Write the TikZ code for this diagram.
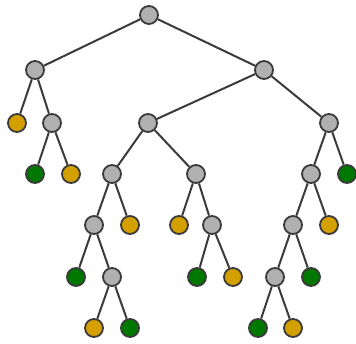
\documentclass[tikz,border=0pt]{standalone}
\definecolor{ngray}{HTML}{B0B0B0}
\definecolor{norange}{HTML}{D4A000}
\definecolor{ngreen}{HTML}{007800}
\definecolor{nedge}{HTML}{3A3A3A}
\begin{document}
\begin{tikzpicture}[x=1pt,y=-1pt,
  nd/.style={circle,draw=nedge,line width=1.8pt,minimum size=18pt,inner sep=0pt},
  gn/.style={nd,fill=ngray},
  on/.style={nd,fill=norange},
  en/.style={nd,fill=ngreen},
  ed/.style={draw=nedge,line width=2pt}]
\useasboundingbox (0,0) rectangle (356,343);
\node[gn] (r) at (149,15) {};
\node[gn] (a) at (35,70) {};
\node[gn] (b) at (264,70) {};
\node[on] (a1) at (17,123) {};
\node[gn] (a2) at (52,123) {};
\node[en] (a21) at (35,174) {};
\node[on] (a22) at (71,174) {};
\node[gn] (c) at (148,123) {};
\node[gn] (d) at (329,123) {};
\node[gn] (c1) at (112,174) {};
\node[gn] (c2) at (196,174) {};
\node[gn] (c11) at (94,225) {};
\node[on] (c12) at (130,225) {};
\node[en] (c111) at (76,277) {};
\node[gn] (c112) at (112,277) {};
\node[on] (c1121) at (94,328) {};
\node[en] (c1122) at (130,328) {};
\node[on] (c21) at (179,225) {};
\node[gn] (c22) at (212,225) {};
\node[en] (c221) at (197,277) {};
\node[on] (c222) at (233,277) {};
\node[gn] (d1) at (311,174) {};
\node[en] (d2) at (347,174) {};
\node[gn] (d11) at (293,225) {};
\node[on] (d12) at (329,225) {};
\node[gn] (d111) at (275,277) {};
\node[en] (d112) at (311,277) {};
\node[en] (d1111) at (258,328) {};
\node[on] (d1112) at (293,328) {};
\foreach \p/\q in {r/a,r/b,a/a1,a/a2,a2/a21,a2/a22,b/c,b/d,c/c1,c/c2,c1/c11,c1/c12,c11/c111,c11/c112,c112/c1121,c112/c1122,c2/c21,c2/c22,c22/c221,c22/c222,d/d1,d/d2,d1/d11,d1/d12,d11/d111,d11/d112,d111/d1111,d111/d1112}
  \draw[ed] (\p) -- (\q);
\end{tikzpicture}
\end{document}
